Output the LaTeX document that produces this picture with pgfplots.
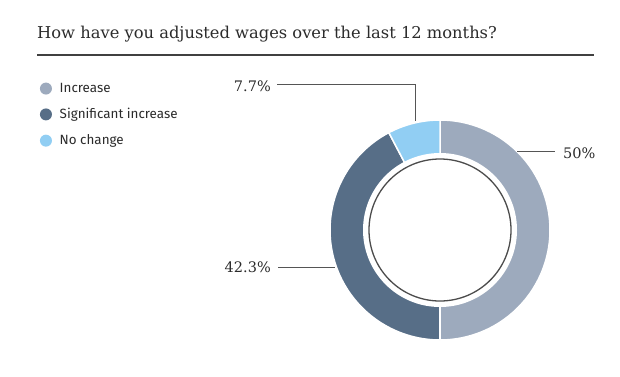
\documentclass[border=0pt]{standalone}
\usepackage{fontspec}
\setmainfont{DejaVu Serif}
\newfontfamily\legendfont{Fira Sans}
\usepackage{pgfplots}
\usepackage{pgfplotstable}
\pgfplotsset{compat=1.18}
\definecolor{cInc}{HTML}{9DAABD}
\definecolor{cSig}{HTML}{576E87}
\definecolor{cNo}{HTML}{91CEF3}
\definecolor{cLine}{HTML}{555555}
\definecolor{cText}{HTML}{2B2B2B}
\pgfplotstableread{
label value
Increase 50
Significant 42.3
Nochange 7.7
}\datatable
\pgfplotstablegetelem{0}{value}\of\datatable \let\va\pgfplotsretval
\pgfplotstablegetelem{1}{value}\of\datatable \let\vb\pgfplotsretval
\pgfplotstablegetelem{2}{value}\of\datatable \let\vc\pgfplotsretval
\pgfmathsetmacro\aA{90}
\pgfmathsetmacro\aB{90-3.6*\va}
\pgfmathsetmacro\aC{90-3.6*(\va+\vb)}
\pgfmathsetmacro\aD{90-3.6*(\va+\vb+\vc)}
\def\cx{440}
\def\cy{146}
\def\R{110}
\begin{document}
\begin{tikzpicture}
\begin{axis}[
  width=620pt, height=376pt, scale only axis,
  xmin=0, xmax=620, ymin=0, ymax=376,
  hide axis, clip=false,
  legend style={at={(axis cs:38,295)}, anchor=north west, draw=none, fill=none,
    font=\legendfont\fontsize{13.4}{15}\selectfont, row sep=10.5pt, inner sep=0pt,
    text=cText, cells={anchor=west}},
  legend image code/.code={\path (0pt,0pt) (18pt,0pt); \fill[#1, draw=none] (7pt,0pt) circle (6pt);},
]
\path[draw=none] (axis cs:0,0) rectangle (axis cs:620,376);
\addplot[fill=cInc, draw=white, line width=1.5pt, domain=\aB:\aA, samples=100, variable=\t]
  ({\cx+\R*cos(\t)},{\cy+\R*sin(\t)}) -- (axis cs:\cx,\cy) -- cycle;
\addlegendentry{Increase}
\addplot[fill=cSig, draw=white, line width=1.5pt, domain=\aC:\aB, samples=100, variable=\t]
  ({\cx+\R*cos(\t)},{\cy+\R*sin(\t)}) -- (axis cs:\cx,\cy) -- cycle;
\addlegendentry{Significant increase}
\addplot[fill=cNo, draw=white, line width=1.5pt, domain=\aD:\aC, samples=40, variable=\t]
  ({\cx+\R*cos(\t)},{\cy+\R*sin(\t)}) -- (axis cs:\cx,\cy) -- cycle;
\addlegendentry{No change}
\fill[white] (axis cs:\cx,\cy) circle[radius=77];
\draw[black!70, line width=1.3pt] (axis cs:\cx,\cy) circle[radius=71];
% leader lines
\addplot[cLine, line width=0.9pt, forget plot] coordinates {(277,292) (415,292) (415,255)};
\addplot[cLine, line width=0.9pt, forget plot] coordinates {(517,225) (555,225)};
\addplot[cLine, line width=0.9pt, forget plot] coordinates {(278,109) (335,109)};
\node[anchor=east, inner sep=0pt, font=\fontsize{14.5}{16}\selectfont, text=cText] at (axis cs:271,290) {7.7\%};
\node[anchor=west, inner sep=0pt, font=\fontsize{14.5}{16}\selectfont, text=cText] at (axis cs:563,223) {50\%};
\node[anchor=east, inner sep=0pt, font=\fontsize{14.5}{16}\selectfont, text=cText] at (axis cs:271,109) {42.3\%};
% title
\node[anchor=base west, inner sep=0pt, font=\fontsize{16.3}{19}\selectfont, text=cText] at (axis cs:37,338) {How have you adjusted wages over the last 12 months?};
\addplot[black!75, line width=2pt, forget plot] coordinates {(37,321) (594,321)};
\end{axis}
\end{tikzpicture}
\end{document}
